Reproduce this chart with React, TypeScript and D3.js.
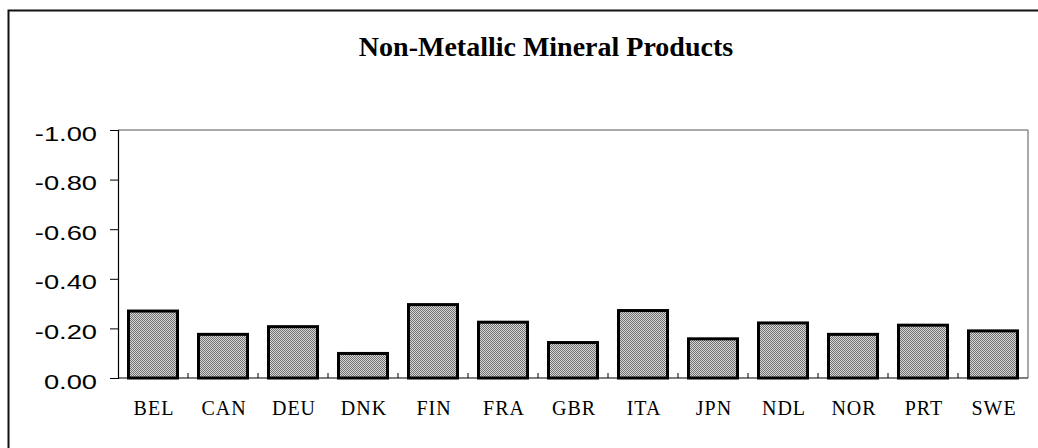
import * as d3 from "d3";
import { useEffect, useRef } from "react";

const countries = ["BEL", "CAN", "DEU", "DNK", "FIN", "FRA", "GBR", "ITA", "JPN", "NDL", "NOR", "PRT", "SWE"];
const values = [-0.27, -0.176, -0.207, -0.099, -0.296, -0.225, -0.143, -0.272, -0.158, -0.222, -0.176, -0.213, -0.19];
const yTicks = [0, -0.2, -0.4, -0.6, -0.8, -1.0];
const title = "Non-Metallic Mineral Products";

const width = 1038;
const height = 448;
const margin = { top: 130, right: 10, bottom: 70, left: 118 };

export default function App() {
  const svgRef = useRef(null);

  useEffect(() => {
    if (!svgRef.current) return;
    const svg = d3.select(svgRef.current);
    svg.selectAll("*").remove();

    const x = d3
      .scaleBand()
      .domain(countries)
      .range([margin.left, width - margin.right])
      .paddingInner(0.3)
      .paddingOuter(0.15);

    // inverted: 0 at the bottom, -1 at the top
    const y = d3.scaleLinear().domain([0, -1]).range([height - margin.bottom, margin.top]);

    // dithered grey fill like the scanned original
    const defs = svg.append("defs");
    const pat = defs
      .append("pattern")
      .attr("id", "dither")
      .attr("width", 2)
      .attr("height", 2)
      .attr("patternUnits", "userSpaceOnUse");
    pat.append("rect").attr("width", 2).attr("height", 2).attr("fill", "#d8d8d8");
    pat.append("rect").attr("width", 1).attr("height", 1).attr("fill", "#707070");
    pat.append("rect").attr("x", 1).attr("y", 1).attr("width", 1).attr("height", 1).attr("fill", "#707070");

    // outer frame
    svg
      .append("rect")
      .attr("x", 8.5)
      .attr("y", 10.5)
      .attr("width", 1040)
      .attr("height", 460)
      .attr("fill", "white")
      .attr("stroke", "#111")
      .attr("stroke-width", 2);

    svg
      .append("text")
      .attr("x", 546)
      .attr("y", 56)
      .attr("text-anchor", "middle")
      .attr("font-family", "'Liberation Serif', 'Times New Roman', serif")
      .attr("font-weight", "bold")
      .attr("font-size", 28)
      .attr("fill", "#000")
      .text(title);

    const [x0, x1] = x.range();
    const [yb, yt] = y.range();

    // plot area box (top/right thin)
    svg
      .append("path")
      .attr("d", `M${x0},${yt}H${x1}V${yb}`)
      .attr("fill", "none")
      .attr("stroke", "#555")
      .attr("stroke-width", 1);

    // bars
    svg
      .append("g")
      .selectAll("rect")
      .data(values)
      .join("rect")
      .attr("x", (_, i) => x(countries[i])!)
      .attr("y", (d) => y(d))
      .attr("width", x.bandwidth())
      .attr("height", (d) => y(0) - y(d))
      .attr("fill", "url(#dither)")
      .attr("stroke", "#000")
      .attr("stroke-width", 3);

    // y axis, labels stretched sideways like the original
    const sx = 1.3;
    const yAxis = svg
      .append("g")
      .attr("transform", `translate(${x0},0)`)
      .call(
        d3
          .axisLeft(y)
          .tickValues(yTicks)
          .tickSize(8)
          .tickPadding(13)
          .tickFormat((d: any) => (Math.abs(d) < 1e-9 ? 0 : d).toFixed(2)),
      );
    yAxis.select(".domain").attr("stroke", "#000").attr("stroke-width", 1.2);
    yAxis.selectAll(".tick line").attr("stroke", "#000");
    yAxis
      .selectAll("text")
      .attr("font-family", "'Liberation Sans', Arial, sans-serif")
      .attr("font-size", 21)
      .attr("fill", "#000")
      .attr("dy", "0.48em")
      .attr("x", -21 / sx)
      .attr("transform", `scale(${sx},1)`);

    // x baseline with small inward ticks between categories
    svg
      .append("line")
      .attr("x1", x0)
      .attr("x2", x1)
      .attr("y1", yb)
      .attr("y2", yb)
      .attr("stroke", "#000")
      .attr("stroke-width", 1.2);

    const step = x.step();
    const bounds = countries.slice(0, -1).map((c) => x(c)! + x.bandwidth() + (step * x.paddingInner()) / 2);
    svg
      .append("g")
      .selectAll("line")
      .data(bounds)
      .join("line")
      .attr("x1", (d) => d)
      .attr("x2", (d) => d)
      .attr("y1", yb)
      .attr("y2", yb - 5)
      .attr("stroke", "#000");

    svg
      .append("g")
      .selectAll("text")
      .data(countries)
      .join("text")
      .attr("x", (d) => x(d)! + x.bandwidth() / 2 + 1)
      .attr("y", yb + 37)
      .attr("text-anchor", "middle")
      .attr("font-family", "'Liberation Serif', 'Times New Roman', serif")
      .attr("font-size", 20)
      .attr("letter-spacing", 1)
      .attr("fill", "#000")
      .text((d) => d);
  }, []);

  return (
    <svg
      ref={svgRef}
      width={width}
      height={height}
      viewBox={`0 0 ${width} ${height}`}
      style={{ position: "absolute", left: 0, top: 0, display: "block", background: "white" }}
    />
  );
}
